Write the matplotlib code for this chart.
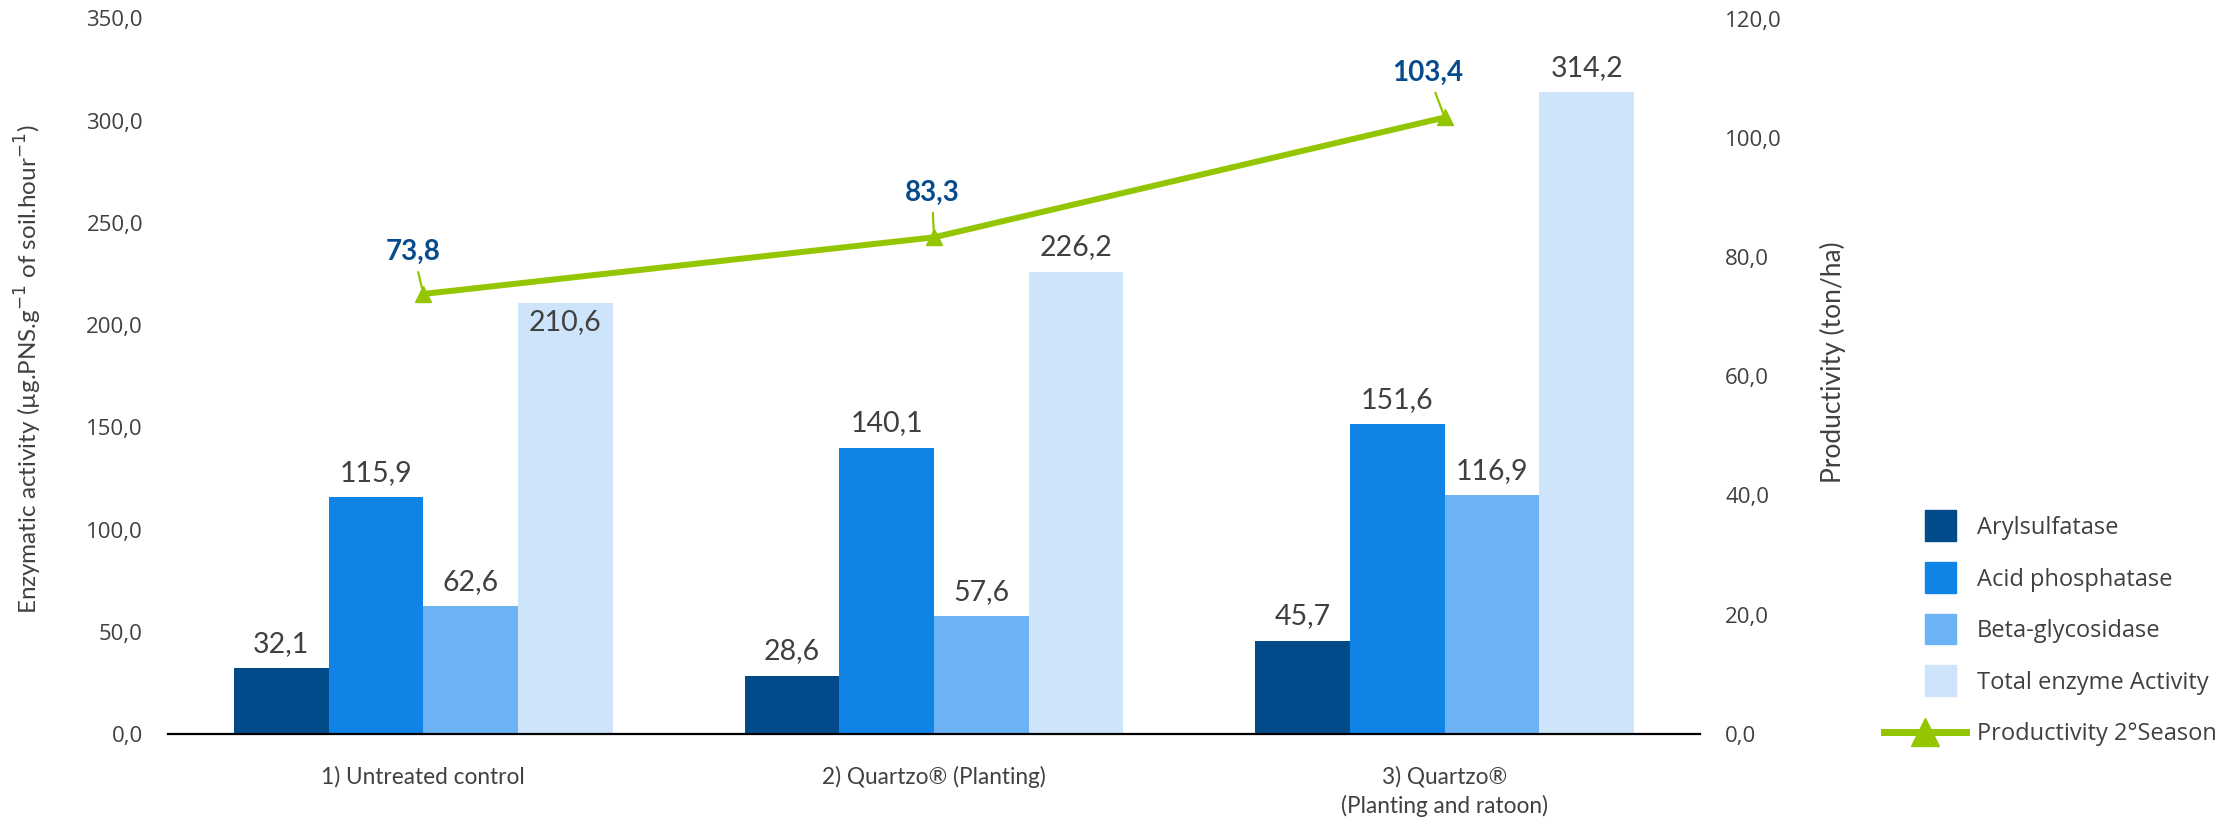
import matplotlib
matplotlib.use("Agg")
import matplotlib.pyplot as plt
import matplotlib.patches as mpatches
from matplotlib.lines import Line2D
from matplotlib.legend_handler import HandlerPatch
from matplotlib.ticker import FuncFormatter
import numpy as np

# data
categories = ["1) Untreated control", "2) Quartzo® (Planting)", "3) Quartzo®\n(Planting and ratoon)"]
series_names = ["Arylsulfatase", "Acid phosphatase", "Beta-glycosidase", "Total enzyme Activity"]
arylsulfatase = [32.1, 28.6, 45.7]
acid_phosphatase = [115.9, 140.1, 151.6]
beta_glycosidase = [62.6, 57.6, 116.9]
total_activity = [210.6, 226.2, 314.2]
productivity = [73.8, 83.3, 103.4]

colors = ["#024B8A", "#1083E6", "#6BB3F5", "#CEE4FA"]
green = "#93C500"
label_blue = "#064C8C"
grey = "#404040"

# (series, group) labels that sit inside the bar top because the line passes over them
inside_labels = {(3, 0)}

W, H = 2231, 819
fig = plt.figure(figsize=(W / 100, H / 100), dpi=100)
ax = fig.add_axes([168 / W, 1 - 734 / H, (1700 - 168) / W, (734 - 18.5) / H])
ax2 = ax.twinx()

x = np.arange(len(categories))
bw = 0.1855
for i, vals in enumerate([arylsulfatase, acid_phosphatase, beta_glycosidase, total_activity]):
    ax.bar(x + (i - 1.5) * bw, vals, bw, color=colors[i], label=series_names[i], zorder=2)
    for j, (xi, v) in enumerate(zip(x + (i - 1.5) * bw, vals)):
        if (i, j) in inside_labels:
            off, va = (0, -4), "top"
        else:
            off, va = (0, 8), "bottom"
        ax.annotate(f"{v:.1f}".replace(".", ","), (xi, v), xytext=off, textcoords="offset points",
                    ha="center", va=va, fontsize=20.5, color=grey, family="Lato", zorder=3)

comma = FuncFormatter(lambda v, p: f"{v:.1f}".replace(".", ","))
ax.set_xlim(-0.5, 2.5)
ax.set_ylim(0, 350)
ax.set_yticks(np.arange(0, 351, 50))
ax.yaxis.set_major_formatter(comma)
ax2.set_ylim(0, 120)
ax2.set_yticks(np.arange(0, 121, 20))
ax2.yaxis.set_major_formatter(comma)

ax.set_xticks(x)
ax.set_xticklabels(categories, fontsize=16.3, family="Lato", color=grey, linespacing=1.4)
ax.tick_params(axis="x", length=0, pad=23)
ax.tick_params(axis="y", length=0, pad=18, labelsize=16, labelcolor=grey)
ax2.tick_params(axis="y", length=0, pad=18, labelsize=16, labelcolor=grey)
for t in ax.get_yticklabels() + ax2.get_yticklabels():
    t.set_family("Open Sans")

for s in ["top", "left", "right"]:
    ax.spines[s].set_visible(False)
for s in ax2.spines.values():
    s.set_visible(False)
ax.spines["bottom"].set_color("black")
ax.spines["bottom"].set_linewidth(1.6)

ylab = ax.set_ylabel(r"Enzymatic activity (µg.PNS.g$^{-1}$ of soil.hour$^{-1}$)", fontsize=15,
                     family="Lato", color=grey)
ax.yaxis.set_label_coords(44 / W, 1 - 369 / H, transform=fig.transFigure)
ylab2 = ax2.set_ylabel("Productivity (ton/ha)", fontsize=15, family="Lato", color=grey, rotation=90)
ax2.yaxis.set_label_coords(1820 / W, 1 - 362 / H, transform=fig.transFigure)

# productivity line
ax2.plot(x, productivity, color=green, lw=4.3, marker="^", ms=11, zorder=5)
offsets = [(-7, 30), (-1.5, 32), (-12, 32)]
for xi, v, off in zip(x, productivity, offsets):
    ax2.annotate(f"{v:.1f}".replace(".", ","), (xi, v), xytext=off, textcoords="offset points",
                 ha="center", va="center", fontsize=20, fontweight="bold", color=label_blue,
                 family="Lato",
                 arrowprops=dict(arrowstyle="-", color=green, lw=1.6, shrinkA=3, shrinkB=3))
ax2.set_zorder(ax.get_zorder() + 1)
ax2.patch.set_visible(False)


# legend
def square(legend, orig_handle, xdescent, ydescent, width, height, fontsize):
    s = 22.3
    return mpatches.Rectangle((-xdescent + width * 0.5, -ydescent + height / 2 - s / 2), s, s)


lfs = 17
handles = [mpatches.Patch(color=c) for c in colors]
handles.append(Line2D([], [], color=green, lw=5, marker="^", ms=20))
labels = series_names + ["Productivity 2°Season"]
leg = fig.legend(handles, labels, loc="upper left", bbox_to_anchor=(1884 / W, 1 - 516 / H),
                 frameon=False, handlelength=82 / (lfs * 100 / 72), handletextpad=0.47,
                 labelspacing=1.17, borderpad=0, borderaxespad=0,
                 handler_map={mpatches.Patch: HandlerPatch(patch_func=square)},
                 prop={"family": "Open Sans", "size": lfs})
for t in leg.get_texts():
    t.set_color(grey)

# fit the narrow axis titles to the lengths seen in the picture
fig.canvas.draw()
r = fig.canvas.get_renderer()
for lab, target in [(ylab, 491), (ylab2, 242)]:
    h = lab.get_window_extent(r).height
    lab.set_fontsize(lab.get_fontsize() * target / h)

fig.savefig("out.png", dpi=100)
